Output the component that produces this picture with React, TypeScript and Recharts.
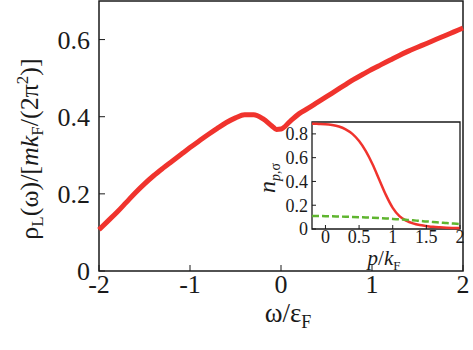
import React from 'react'
import { LineChart, Line, XAxis, YAxis, ReferenceArea, Customized } from 'recharts'

// main panel: spectral density vs omega / eps_F
const omega = [
  -2.0, -1.9, -1.8, -1.7, -1.6, -1.5, -1.4, -1.3, -1.2, -1.1, -1.0, -0.9, -0.8, -0.7, -0.6, -0.5,
  -0.4, -0.3, -0.2, -0.1, -0.05, 0.0, 0.1, 0.2, 0.3, 0.4, 0.5, 0.6, 0.7, 0.8, 0.9, 1.0, 1.1, 1.2,
  1.3, 1.4, 1.5, 1.6, 1.7, 1.8, 1.9, 2.0,
]
const rhoL = [
  0.107, 0.130, 0.153, 0.178, 0.203, 0.226, 0.247, 0.266, 0.284, 0.302, 0.320, 0.337, 0.354, 0.370, 0.385, 0.397,
  0.405, 0.405, 0.395, 0.376, 0.367, 0.368, 0.388, 0.408, 0.422, 0.437, 0.452, 0.467, 0.482, 0.497, 0.510, 0.523, 0.535, 0.547,
  0.559, 0.570, 0.580, 0.590, 0.600, 0.610, 0.620, 0.630,
]

// inset: occupation numbers vs p / k_F
const momentum = [
  -0.2, -0.1, 0.0, 0.1, 0.2, 0.3, 0.4, 0.5, 0.6, 0.7, 0.8, 0.9, 1.0, 1.1, 1.2, 1.3, 1.4, 1.5, 1.6, 1.7, 1.8, 1.9, 2.0,
]
const nL = [
  0.885, 0.884, 0.882, 0.875, 0.862, 0.838, 0.800, 0.740, 0.655, 0.545, 0.415, 0.285, 0.178, 0.108, 0.070, 0.047,
  0.033, 0.025, 0.018, 0.014, 0.011, 0.009, 0.008,
]
const nH = [
  0.110, 0.109, 0.108, 0.107, 0.105, 0.103, 0.101, 0.099, 0.097, 0.095, 0.092, 0.089, 0.085, 0.081, 0.077, 0.073,
  0.068, 0.064, 0.059, 0.055, 0.050, 0.046, 0.042,
]

const mainXTicks = [-2, -1, 0, 1, 2]
const mainYTicks = [0, 0.2, 0.4, 0.6]
const insetXTicks = [0, 0.5, 1, 1.5, 2]
const insetYTicks = [0, 0.2, 0.4, 0.6, 0.8]

const RED = '#f0332d'
const GREEN = '#5fb52f'
const INK = '#1a1a1a'
const SERIF = 'Liberation Serif'

const mainData = omega.map((w, i) => ({ w, rho: rhoL[i] }))
const insetData = momentum.map((p, i) => ({ p, nL: nL[i], nH: nH[i] }))
const fmt = (v: number) => String(v)

function MainLabels() {
  return (
    <g style={{ fontFamily: SERIF }} fill={INK}>
      <text x={38} y={149} transform="rotate(-90 38 149)" textAnchor="middle" fontSize={26} style={{ fontFamily: SERIF }}>
        <tspan>ρ</tspan>
        <tspan fontSize={17} dy={5}>L</tspan>
        <tspan dy={-5}>(ω)/[</tspan>
        <tspan fontStyle="italic">mk</tspan>
        <tspan fontSize={17} dy={5}>F</tspan>
        <tspan dy={-5}>/(2π</tspan>
        <tspan fontSize={17} dy={-10}>2</tspan>
        <tspan dy={10}>)]</tspan>
      </text>
      <text x={288} y={322} textAnchor="middle" fontSize={27} style={{ fontFamily: SERIF }}>
        <tspan>ω/ε</tspan>
        <tspan fontSize={18} dy={6}>F</tspan>
      </text>
    </g>
  )
}

function InsetLabels() {
  return (
    <g style={{ fontFamily: SERIF }} fill={INK}>
      <text x={45} y={68} transform="rotate(-90 45 68)" textAnchor="middle" fontSize={24} style={{ fontFamily: SERIF }}>
        <tspan fontStyle="italic">n</tspan>
        <tspan fontSize={14} dy={5}>
          <tspan fontStyle="italic">p</tspan>,σ
        </tspan>
      </text>
      <text x={154} y={155} textAnchor="middle" fontSize={21} style={{ fontFamily: SERIF }}>
        <tspan fontStyle="italic">p</tspan>
        <tspan>/</tspan>
        <tspan fontStyle="italic">k</tspan>
        <tspan fontSize={13} dy={5}>F</tspan>
      </text>
      <text x={188} y={36} textAnchor="end" fontSize={22} style={{ fontFamily: SERIF }}>
        <tspan fontStyle="italic">n</tspan>
        <tspan fontSize={14} dy={5}>
          <tspan fontStyle="italic">p</tspan>,L
        </tspan>
      </text>
      <line x1={192} x2={218} y1={30} y2={30} stroke={RED} strokeWidth={2.5} />
      <text x={188} y={59} textAnchor="end" fontSize={22} style={{ fontFamily: SERIF }}>
        <tspan fontStyle="italic">n</tspan>
        <tspan fontSize={14} dy={5}>
          <tspan fontStyle="italic">p</tspan>,H
        </tspan>
      </text>
      <line x1={192} x2={218} y1={53} y2={53} stroke={GREEN} strokeWidth={2.5} strokeDasharray="7 3" />
    </g>
  )
}

export default function App() {
  const tickText = { fill: INK, fontSize: 26, style: { fontFamily: SERIF } }
  const insetTickText = { fill: INK, fontSize: 18, style: { fontFamily: SERIF } }
  return (
    <div style={{ position: 'absolute', left: 0, top: 0, width: 473, height: 350, background: '#fff', fontFamily: SERIF }}>
      <LineChart width={473} height={350} data={mainData} margin={{ top: 1, right: 0, bottom: 0, left: 0 }} style={{ fontFamily: SERIF }}>
        <XAxis dataKey="w" type="number" domain={[-2, 2]} ticks={mainXTicks} interval={0} height={79}
          axisLine={false} tickSize={-6} tickMargin={10} tickLine={{ stroke: INK }} tick={tickText} tickFormatter={fmt} />
        <XAxis xAxisId="top" orientation="top" type="number" domain={[-2, 2]} ticks={mainXTicks} interval={0} height={0}
          axisLine={false} tickSize={-6} tickLine={{ stroke: INK }} tick={false} />
        <YAxis type="number" domain={[0, 0.7]} ticks={mainYTicks} interval={0} width={99}
          axisLine={false} tickSize={-6} tickMargin={15} tickLine={{ stroke: INK }} tick={tickText} tickFormatter={fmt} />
        <YAxis yAxisId="right" orientation="right" type="number" domain={[0, 0.7]} ticks={mainYTicks} interval={0} width={10}
          axisLine={false} tickSize={-6} tickLine={{ stroke: INK }} tick={false} />
        <ReferenceArea x1={-2} x2={2} y1={0} y2={0.7} fill="none" stroke={INK} strokeWidth={1.5} fillOpacity={0} />
        <Line dataKey="rho" type="monotone" stroke={RED} strokeWidth={5} dot={false} isAnimationActive={false} />
        <Customized component={MainLabels} />
      </LineChart>

      <div style={{ position: 'absolute', left: 230, top: 110 }}>
        <LineChart width={240} height={170} data={insetData} margin={{ top: 12, right: 0, bottom: 0, left: 0 }} style={{ fontFamily: SERIF }}>
          <XAxis dataKey="p" type="number" domain={[-0.2, 2]} ticks={insetXTicks} interval={0} height={51}
            axisLine={false} tickSize={-4} tickMargin={5} tickLine={{ stroke: INK }} tick={insetTickText} tickFormatter={fmt} />
          <XAxis xAxisId="top" orientation="top" type="number" domain={[-0.2, 2]} ticks={insetXTicks} interval={0} height={0}
            axisLine={false} tickSize={-4} tickLine={{ stroke: INK }} tick={false} />
          <YAxis type="number" domain={[0, 0.9]} ticks={insetYTicks} interval={0} width={82}
            axisLine={false} tickSize={-4} tickMargin={8} tickLine={{ stroke: INK }} tick={insetTickText} tickFormatter={fmt} />
          <YAxis yAxisId="right" orientation="right" type="number" domain={[0, 0.9]} ticks={insetYTicks} interval={0} width={10}
            axisLine={false} tickSize={-4} tickLine={{ stroke: INK }} tick={false} />
          <ReferenceArea x1={-0.2} x2={2} y1={0} y2={0.9} fill="#fff" fillOpacity={1} stroke={INK} strokeWidth={1.3} />
          <Line dataKey="nL" type="monotone" stroke={RED} strokeWidth={2.5} dot={false} isAnimationActive={false} />
          <Line dataKey="nH" type="monotone" stroke={GREEN} strokeWidth={2.5} strokeDasharray="7 3" dot={false} isAnimationActive={false} />
          <Customized component={InsetLabels} />
        </LineChart>
      </div>
    </div>
  )
}
